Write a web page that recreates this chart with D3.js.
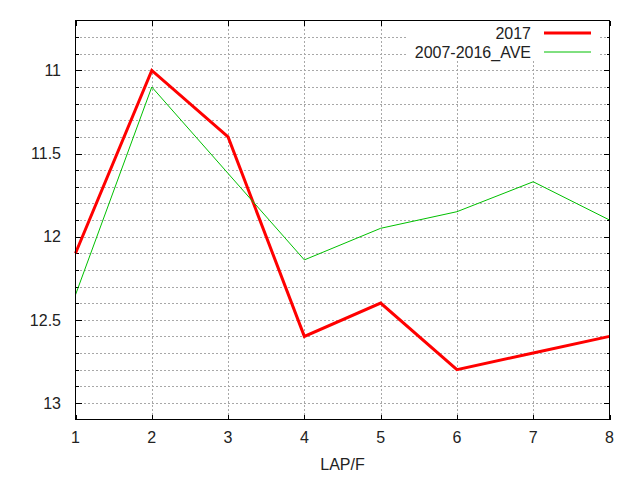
<!DOCTYPE html>
<html>
<head>
<meta charset="utf-8">
<script src="https://cdn.jsdelivr.net/npm/d3@7/dist/d3.min.js"></script>
<style>
html,body{margin:0;padding:0;background:#fff;}
svg{display:block;}
text{font-family:"Liberation Sans",Arial,sans-serif;font-size:16px;fill:#222;}
</style>
</head>
<body>
<svg id="chart" width="640" height="480"></svg>
<script>
const laps = [1, 2, 3, 4, 5, 6, 7, 8];
const series2017 = [12.1, 11.0, 11.4, 12.6, 12.4, 12.8, 12.7, 12.6];
const seriesAve = [12.35, 11.1, 11.62, 12.14, 11.95, 11.85, 11.67, 11.9];
const seriesNames = ["2017", "2007-2016_AVE"];
const seriesColors = ["#ff0000", "#00c000"];
const yMajorTicks = [11, 11.5, 12, 12.5, 13];
const yMinorTicks = [10.8, 10.9, 11.0, 11.1, 11.2, 11.3, 11.4, 11.5, 11.6, 11.7, 11.8, 11.9, 12.0, 12.1, 12.2, 12.3, 12.4, 12.5, 12.6, 12.7, 12.8, 12.9, 13.0];
const yDomain = [10.7, 13.1];
const xLabel = "LAP/F";

const svg = d3.select("#chart");
const L = 75.5, R = 609.5, T = 20.5, B = 419.5;

const x = d3.scaleLinear().domain([1, 8]).range([L, R]);
const y = d3.scaleLinear().domain(yDomain).range([T, B]);

const g = svg.append("g");

// grid
const grid = g.append("g").attr("stroke", "#a8a8a8").attr("stroke-width", 1).attr("stroke-dasharray", "2,2")
  .attr("shape-rendering", "crispEdges");
grid.selectAll("line.h").data(yMinorTicks).enter().append("line")
  .attr("x1", L).attr("x2", R)
  .attr("y1", d => Math.round(y(d)) + 0.5).attr("y2", d => Math.round(y(d)) + 0.5);
grid.selectAll("line.v").data(laps.slice(1, -1)).enter().append("line")
  .attr("y1", T).attr("y2", B)
  .attr("x1", d => Math.round(x(d)) + 0.5).attr("x2", d => Math.round(x(d)) + 0.5);

// axes (ticks inward, mirrored)
const majorLen = 6, minorLen = 3;
const isMajor = v => yMajorTicks.some(m => Math.abs(m - v) < 1e-6);

const leftAxis = d3.axisLeft(y).tickValues(yMinorTicks).tickSize(0).tickPadding(0).tickFormat("");
const axL = g.append("g").call(leftAxis);
axL.select(".domain").remove();

const ticks = g.append("g").attr("stroke", "#000").attr("stroke-width", 1).attr("shape-rendering", "crispEdges");
yMinorTicks.forEach(v => {
  const yy = Math.round(y(v)) + 0.5;
  const len = isMajor(v) ? majorLen : minorLen;
  ticks.append("line").attr("x1", L).attr("x2", L + len).attr("y1", yy).attr("y2", yy);
  ticks.append("line").attr("x1", R).attr("x2", R - len).attr("y1", yy).attr("y2", yy);
});
laps.forEach(v => {
  const xx = Math.round(x(v)) + 0.5;
  ticks.append("line").attr("x1", xx).attr("x2", xx).attr("y1", B).attr("y2", B - 5);
  ticks.append("line").attr("x1", xx).attr("x2", xx).attr("y1", T).attr("y2", T + 5);
});

// y tick labels
g.append("g").selectAll("text").data(yMajorTicks).enter().append("text")
  .attr("x", 61).attr("y", d => y(d)).attr("dy", "0.36em")
  .attr("text-anchor", "end").text(d => d3.format("")(d));

// x tick labels
g.append("g").selectAll("text").data(laps).enter().append("text")
  .attr("x", d => x(d)).attr("y", 443)
  .attr("text-anchor", "middle").text(d => d);

// x label
g.append("text").attr("x", (L + R) / 2).attr("y", 470).attr("text-anchor", "middle").text(xLabel);

// lines
const line = d3.line().x((d, i) => x(laps[i])).y(d => y(d));
g.append("path").datum(series2017).attr("d", line).attr("fill", "none")
  .attr("stroke", seriesColors[0]).attr("stroke-width", 3).attr("stroke-linejoin", "miter");
g.append("path").datum(seriesAve).attr("d", line).attr("fill", "none")
  .attr("stroke", seriesColors[1]).attr("stroke-width", 1);

// legend (opaque)
g.append("rect").attr("x", 407).attr("y", T + 0.5).attr("width", 193).attr("height", 40).attr("fill", "#fff");
const legY = [33, 52];
const legW = [3, 1];
seriesNames.forEach((name, i) => {
  g.append("text").attr("x", 531).attr("y", legY[i]).attr("dy", "0.36em")
    .attr("text-anchor", "end").text(name);
  g.append("line").attr("x1", 544).attr("x2", 591).attr("y1", legY[i]).attr("y2", legY[i])
    .attr("stroke", seriesColors[i]).attr("stroke-width", legW[i]);
});

// border
g.append("rect").attr("x", L).attr("y", T).attr("width", R - L).attr("height", B - T)
  .attr("fill", "none").attr("stroke", "#000").attr("stroke-width", 1).attr("shape-rendering", "crispEdges");
</script>
</body>
</html>
